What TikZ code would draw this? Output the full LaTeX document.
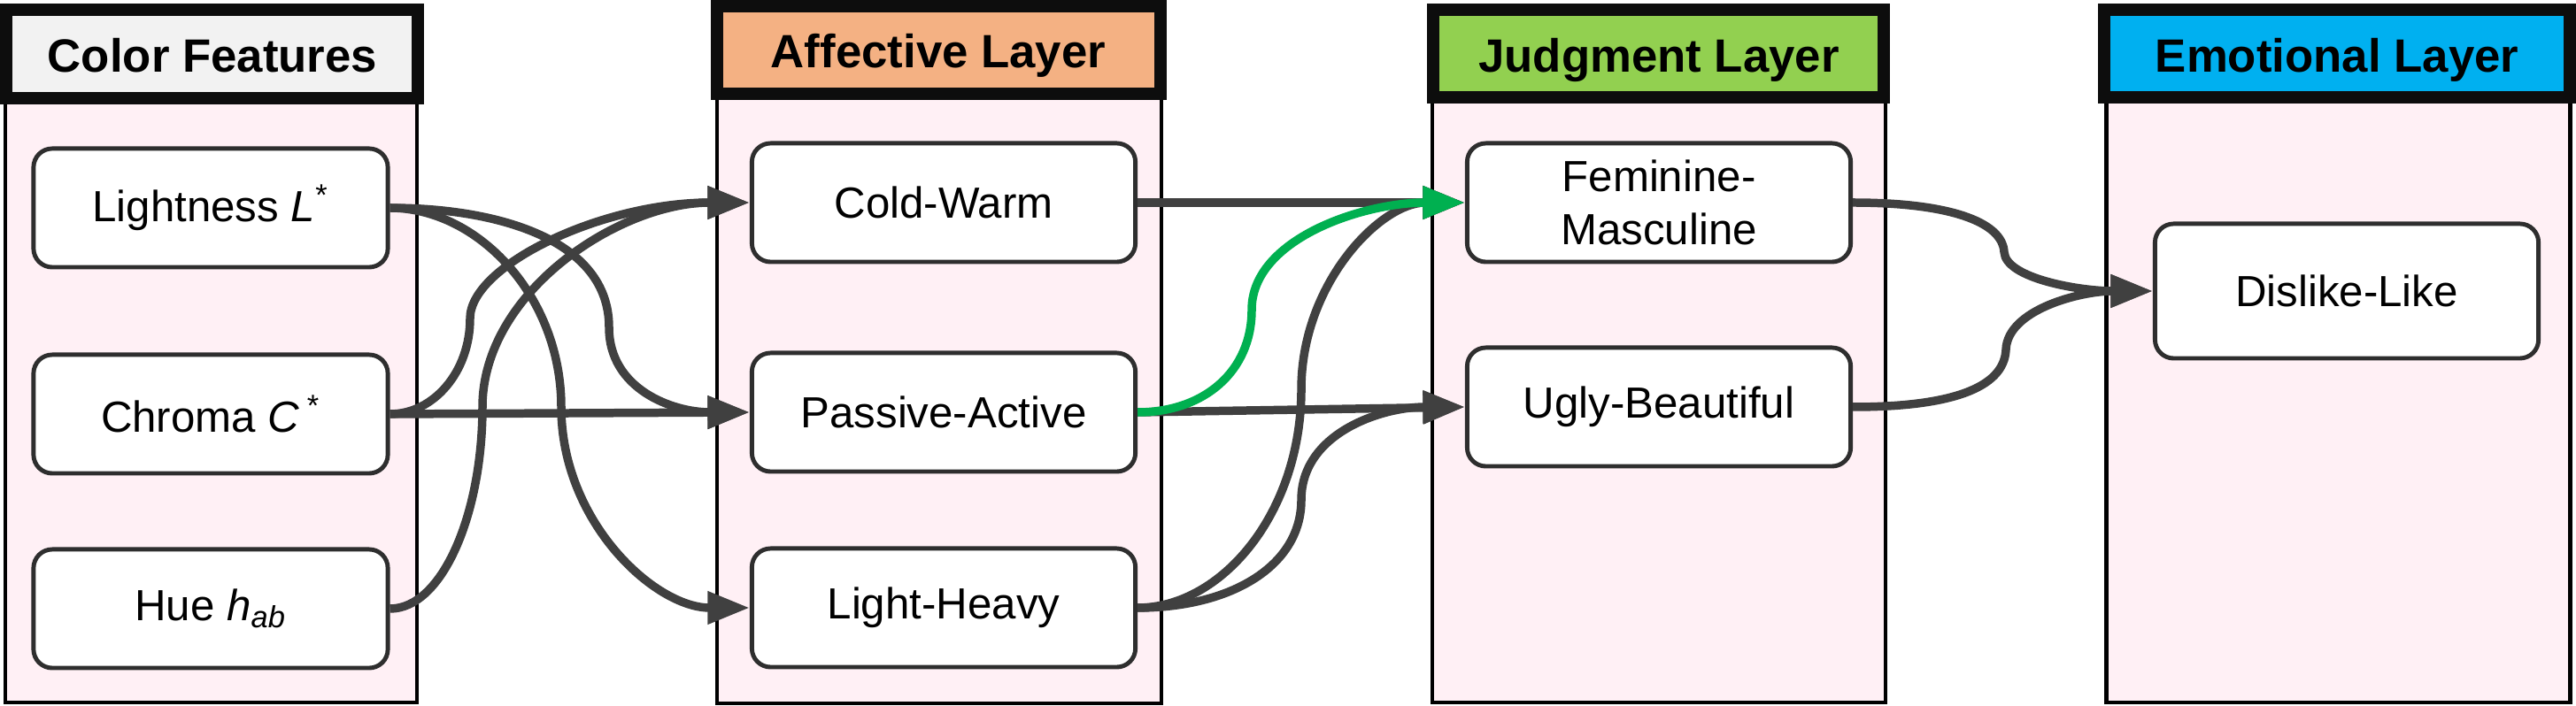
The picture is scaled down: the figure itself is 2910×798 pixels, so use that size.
\documentclass[tikz,border=0pt]{standalone}
\usepackage{fontspec}
\setmainfont{Liberation Sans}
\usetikzlibrary{arrows.meta}
\definecolor{edgegray}{HTML}{404040}
\definecolor{boxline}{HTML}{2E2E2E}
\definecolor{hdrline}{HTML}{0D0D0D}
\definecolor{bodypink}{HTML}{FFF0F5}
\definecolor{hgray}{HTML}{F2F2F2}
\definecolor{horange}{HTML}{F4B183}
\definecolor{hgreen}{HTML}{92D050}
\definecolor{hblue}{HTML}{00B0F0}
\definecolor{egreen}{HTML}{00B050}
\begin{document}
\begin{tikzpicture}[x=0.01cm,y=-0.01cm,
  colbody/.style={draw=black, line width=1.4pt, fill=bodypink},
  hdr/.style={draw=hdrline, line width=4pt},
  hdrtext/.style={font=\fontsize{15pt}{18pt}\selectfont\bfseries, inner sep=0pt, anchor=base},
  box/.style={draw=boxline, line width=1.4pt, fill=white, rounded corners=6pt,
    minimum width=4.33cm, minimum height=1.34cm, align=center, inner sep=0pt,
    font=\fontsize{14pt}{17pt}\selectfont},
  conn/.style={draw=edgegray, line width=2.7pt, -{Triangle[length=13.5pt,width=10pt]}},
  gconn/.style={conn, draw=egreen},
]
\useasboundingbox (0,0) rectangle (2910,798);

% column bodies
\draw[colbody] (6,111) rectangle (471,794);
\draw[colbody] (810,106) rectangle (1312,795);
\draw[colbody] (1618,110) rectangle (2130,794);
\draw[colbody] (2379,110) rectangle (2903,794);

% headers
\draw[hdr, fill=hgray]   (7,11) rectangle (472,111);
\draw[hdr, fill=horange] (810,7) rectangle (1311,106);
\draw[hdr, fill=hgreen]  (1619,11) rectangle (2128,110);
\draw[hdr, fill=hblue]   (2377,11) rectangle (2903,110);
\node[hdrtext] (h1) at (240,82) {Color Features};
\node[hdrtext] (h2) at (1060,77) {Affective Layer};
\node[hdrtext] (h3) at (1874,82) {Judgment Layer};
\node[hdrtext] (h4) at (2640,82) {Emotional Layer};

% nodes
\node[box, minimum width=4cm] (L) at (238,235) {Lightness \textit{L}\textsuperscript{*}};
\node[box, minimum width=4cm] (C) at (238,468) {Chroma \textit{C}\,\textsuperscript{*}};
\node[box, minimum width=4cm] (H) at (238,688) {Hue \textit{h}\textsubscript{\textit{ab}}};
\node[box] (CW) at (1066,229) {Cold-Warm};
\node[box] (PA) at (1066,466) {Passive-Active};
\node[box] (LH) at (1066,687) {Light-Heavy};
\node[box] (FM) at (1874,229) {Feminine-\\Masculine};
\node[box] (UB) at (1874,460) {Ugly-Beautiful};
\node[box, minimum height=1.52cm] (DL) at (2651,329) {Dislike-Like};

% connectors: color features -> affective
\draw[conn] (L.east) .. controls (540,235) and (634,335) .. (634,460)
  .. controls (634,590) and (740,687) .. (LH.west);
\draw[conn] (L.east) .. controls (560,235) and (688,270) .. (688,370)
  .. controls (688,440) and (760,466) .. (PA.west);
\draw[conn] (C.east) -- (PA.west);
\draw[conn] (C.east) .. controls (490,468) and (531,420) .. (531,360)
  .. controls (531,300) and (680,229) .. (CW.west);
\draw[conn] (H.east) .. controls (500,688) and (545,580) .. (545,460)
  .. controls (545,330) and (700,229) .. (CW.west);

% affective -> judgment
\draw[conn] (CW.east) -- (FM.west);
\draw[conn] (PA.east) -- (UB.west);
\draw[conn] (LH.east) .. controls (1380,687) and (1470,580) .. (1470,440)
  .. controls (1470,320) and (1560,229) .. (FM.west);
\draw[conn] (LH.east) .. controls (1390,687) and (1470,640) .. (1470,565)
  .. controls (1470,490) and (1560,460) .. (UB.west);
\draw[gconn] (PA.east) .. controls (1360,466) and (1414,420) .. (1414,350)
  .. controls (1414,270) and (1540,229) .. (FM.west);

% judgment -> emotional
\draw[conn] (FM.east) .. controls (2200,229) and (2262,250) .. (2264,285)
  .. controls (2266,315) and (2350,329) .. (DL.west);
\draw[conn] (UB.east) .. controls (2200,460) and (2264,440) .. (2266,395)
  .. controls (2268,350) and (2350,329) .. (DL.west);
\end{tikzpicture}
\end{document}
